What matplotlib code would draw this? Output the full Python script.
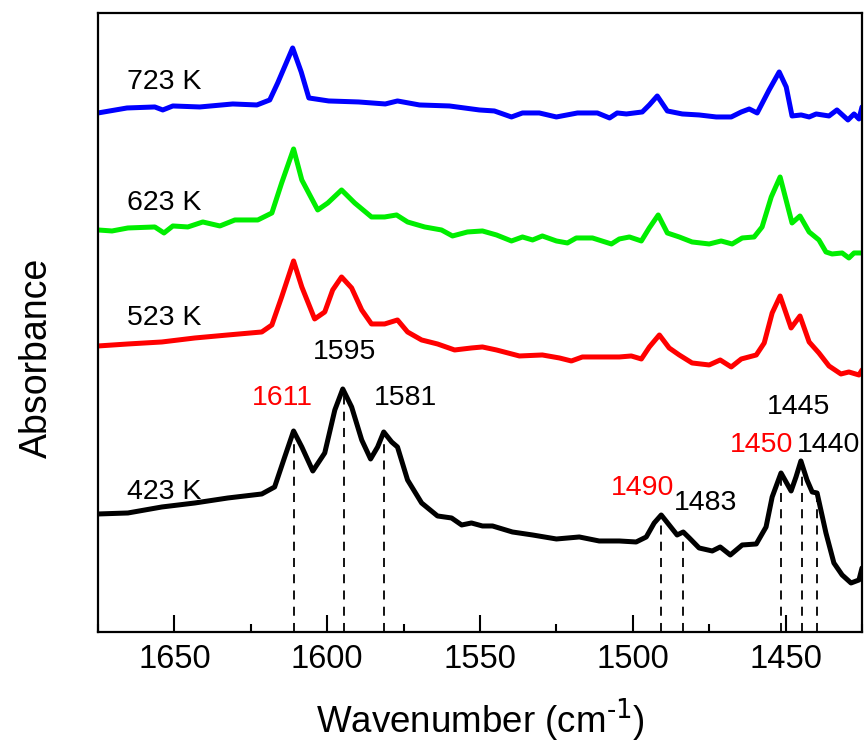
import numpy as np
import matplotlib
matplotlib.use('Agg')
import matplotlib.pyplot as plt
from matplotlib.ticker import MultipleLocator

plt.rcParams['font.family'] = ['Liberation Sans', 'DejaVu Sans']
plt.rcParams['mathtext.default'] = 'regular'

# spectra (wavenumber in cm-1, absorbance in a.u., offsets included)
wn_423 = [1675, 1665.2, 1654.1, 1643.3, 1632.5, 1621.4, 1617.2, 1613.9, 1611.0, 1608.3,
          1604.7, 1600.8, 1597.5, 1594.9, 1592.0, 1588.7, 1585.8, 1583.5, 1581.5, 1578.9,
          1577.0, 1573.7, 1569.1, 1563.9, 1559.3, 1556.0, 1552.8, 1549.2, 1545.9, 1539.4,
          1532.8, 1525.0, 1517.5, 1511.0, 1504.4, 1498.9, 1495.6, 1493.0, 1490.7, 1488.1,
          1485.5, 1483.5, 1481.5, 1478.3, 1474.0, 1471.4, 1468.1, 1464.2, 1459.6, 1456.4,
          1454.4, 1451.5, 1448.2, 1446.6, 1445.0, 1443.0, 1441.3, 1439.7, 1436.8, 1434.2,
          1431.5, 1428.6, 1426.0, 1425.0]
ab_423 = [1.18, 1.19, 1.25, 1.29, 1.34, 1.38, 1.45, 1.75, 2.01, 1.85,
          1.61, 1.79, 2.22, 2.43, 2.25, 1.92, 1.73, 1.85, 2.00, 1.90,
          1.85, 1.52, 1.29, 1.16, 1.14, 1.07, 1.09, 1.06, 1.06, 1.00,
          0.97, 0.93, 0.95, 0.91, 0.91, 0.90, 0.95, 1.09, 1.17, 1.07,
          0.97, 1.00, 0.94, 0.84, 0.81, 0.85, 0.77, 0.87, 0.88, 1.05,
          1.35, 1.59, 1.41, 1.55, 1.71, 1.52, 1.40, 1.39, 0.99, 0.69,
          0.57, 0.49, 0.52, 0.64]

wn_523 = [1675, 1665.2, 1654.1, 1643.3, 1632.5, 1621.4, 1618.1, 1614.9, 1611.0, 1608.3,
          1604.1, 1600.8, 1598.2, 1595.3, 1592.0, 1588.7, 1585.5, 1581.2, 1577.0, 1573.7,
          1569.1, 1563.9, 1558.3, 1552.8, 1549.2, 1544.6, 1537.1, 1529.6, 1524.0, 1520.1,
          1516.5, 1510.0, 1504.4, 1500.5, 1497.2, 1494.6, 1491.3, 1488.1, 1484.8, 1480.6,
          1475.0, 1471.4, 1467.8, 1464.5, 1459.6, 1457.0, 1454.4, 1451.8, 1448.2, 1445.3,
          1442.3, 1439.1, 1435.8, 1431.9, 1429.3, 1426.0, 1425.0]
ab_523 = [2.86, 2.88, 2.90, 2.94, 2.97, 3.00, 3.07, 3.35, 3.71, 3.45,
          3.13, 3.20, 3.42, 3.55, 3.44, 3.22, 3.08, 3.08, 3.12, 3.00,
          2.92, 2.88, 2.82, 2.84, 2.85, 2.82, 2.76, 2.77, 2.74, 2.71,
          2.75, 2.75, 2.75, 2.76, 2.73, 2.85, 2.97, 2.84, 2.77, 2.69,
          2.67, 2.72, 2.65, 2.73, 2.77, 2.89, 3.19, 3.36, 3.04, 3.16,
          2.90, 2.79, 2.66, 2.58, 2.60, 2.57, 2.62]

wn_623 = [1675, 1670.4, 1665.2, 1656.4, 1653.4, 1650.5, 1645.6, 1640.7, 1635.1, 1630.2,
          1622.7, 1618.1, 1614.9, 1611.0, 1608.3, 1603.1, 1599.8, 1595.3, 1591.0, 1585.5,
          1581.2, 1577.3, 1573.7, 1568.1, 1562.6, 1559.0, 1554.1, 1549.2, 1544.6, 1539.7,
          1536.1, 1532.8, 1529.6, 1525.0, 1521.4, 1518.5, 1513.2, 1507.0, 1504.4, 1501.1,
          1497.2, 1494.6, 1491.7, 1488.7, 1484.8, 1480.6, 1475.0, 1471.1, 1467.5, 1464.2,
          1460.3, 1457.7, 1454.7, 1451.8, 1447.9, 1445.3, 1442.3, 1439.1, 1436.8, 1434.8,
          1431.5, 1429.3, 1427.6, 1425.0]
ab_623 = [4.02, 4.01, 4.04, 4.05, 3.99, 4.06, 4.05, 4.10, 4.06, 4.12,
          4.12, 4.19, 4.49, 4.83, 4.52, 4.22, 4.29, 4.42, 4.29, 4.15,
          4.15, 4.17, 4.10, 4.05, 4.02, 3.96, 4.00, 4.01, 3.97, 3.91,
          3.95, 3.92, 3.96, 3.91, 3.89, 3.94, 3.94, 3.88, 3.93, 3.95,
          3.91, 4.04, 4.17, 3.99, 3.95, 3.90, 3.88, 3.91, 3.88, 3.94,
          3.95, 4.05, 4.35, 4.55, 4.09, 4.16, 4.00, 3.92, 3.80, 3.78,
          3.79, 3.74, 3.79, 3.79]

wn_723 = [1675, 1665.5, 1656.4, 1653.8, 1650.5, 1641.7, 1630.9, 1623.0, 1618.8, 1616.2,
          1611.3, 1608.5, 1606.0, 1599.5, 1589.7, 1581.0, 1577.0, 1569.8, 1560.0, 1550.2,
          1545.3, 1539.7, 1536.1, 1530.6, 1525.0, 1518.1, 1511.6, 1507.6, 1505.1, 1502.1,
          1496.9, 1494.6, 1492.0, 1488.7, 1483.8, 1478.3, 1472.7, 1467.8, 1464.5, 1461.9,
          1459.3, 1455.4, 1452.1, 1449.8, 1447.9, 1444.9, 1442.3, 1440.0, 1435.8, 1433.2,
          1429.6, 1427.6, 1426.0, 1425.0]
ab_723 = [5.19, 5.24, 5.25, 5.22, 5.26, 5.25, 5.28, 5.27, 5.32, 5.49,
          5.84, 5.60, 5.34, 5.31, 5.30, 5.28, 5.31, 5.27, 5.26, 5.22,
          5.21, 5.15, 5.19, 5.19, 5.15, 5.19, 5.19, 5.14, 5.19, 5.18,
          5.20, 5.27, 5.36, 5.21, 5.18, 5.17, 5.15, 5.15, 5.20, 5.23,
          5.19, 5.42, 5.60, 5.45, 5.16, 5.17, 5.15, 5.18, 5.16, 5.22,
          5.12, 5.18, 5.13, 5.25]

temps = ['423 K', '523 K', '623 K', '723 K']
colors = ['black', 'red', '#00ee00', 'blue']

# peak markers on the 423 K spectrum
peak_wn = [1611, 1594.6, 1581.5, 1490.7, 1483.5, 1451.5, 1444.8, 1439.6]
peak_top = [2.01, 2.43, 2.00, 1.17, 1.00, 1.59, 1.71, 1.39]

fig, ax = plt.subplots(figsize=(8.64, 7.45), dpi=100)
fig.subplots_adjust(left=0.1134, right=0.9977, bottom=0.1517, top=0.9826)

spectra = [(wn_423, ab_423), (wn_523, ab_523), (wn_623, ab_623), (wn_723, ab_723)]
for (x, y), c in zip(spectra, colors):
    ax.plot(x, y, color=c, lw=3.6, solid_joinstyle='round', solid_capstyle='round')

ax.vlines(peak_wn, 0, peak_top, colors='black', linestyles=(0, (5, 4)), lw=1.3)

# temperature labels
label_y = [1.40, 3.14, 4.29, 5.50]
for t, yy in zip(temps, label_y):
    ax.text(1665.5, yy, t, fontsize=20.5, ha='left', va='center')

# peak labels
ann = [('1611', 1614.5, 2.34, 'red'), ('1595', 1594.3, 2.80, 'black'),
       ('1581', 1574.3, 2.34, 'black'), ('1490', 1496.9, 1.44, 'red'),
       ('1483', 1476.3, 1.29, 'black'), ('1450', 1458.0, 1.87, 'red'),
       ('1440', 1436.1, 1.87, 'black'), ('1445', 1445.6, 2.25, 'black')]
for s, xx, yy, c in ann:
    ax.text(xx, yy, s, fontsize=20.5, color=c, ha='center', va='center')

ax.set_xlim(1675, 1425)
ax.set_ylim(0, 6.19)
ax.xaxis.set_major_locator(MultipleLocator(50))
ax.xaxis.set_minor_locator(MultipleLocator(25))
ax.tick_params(axis='x', which='major', direction='in', length=12, width=1.5,
               labelsize=23.5, pad=9)
ax.tick_params(axis='x', which='minor', direction='in', length=6, width=1.5)
ax.set_yticks([])
for sp in ax.spines.values():
    sp.set_linewidth(1.6)

ax.set_xlabel(r'Wavenumber (cm$^{\text{-1}}$)', fontsize=26.5)
ax.xaxis.set_label_coords(0.5, -0.105)
ax.set_ylabel('Absorbance', fontsize=27)
ax.yaxis.set_label_coords(-0.056, 0.443)

fig.savefig('out.png', dpi=100)
